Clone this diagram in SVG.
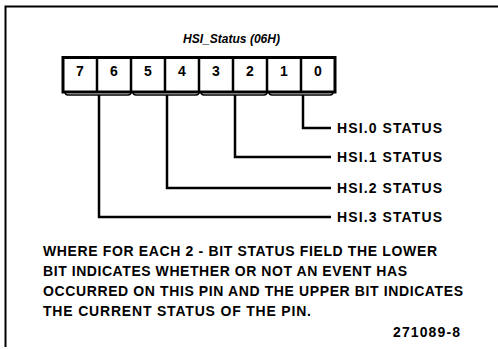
<svg xmlns="http://www.w3.org/2000/svg" width="498" height="349" viewBox="0 0 498 349">
<style>
.f{fill:none;stroke:#000}
.t{font-family:"Liberation Sans",Arial,sans-serif;font-weight:bold;fill:#000}
.lab{font-size:14px}
.dig{font-size:14px;text-anchor:middle}
.para{font-size:14px}
</style>
<rect width="498" height="349" fill="#fff"/>
<g id="frame">
<path class="f" d="M5.5 347 V6.5 H498" stroke-width="2"/>
</g>
<g id="title">
<text class="t" x="183" y="43" font-size="13.5" font-style="italic" textLength="97" lengthAdjust="spacingAndGlyphs">HSI_Status (06H)</text>
</g>
<g id="register">
<rect class="f" x="63" y="57.5" width="272" height="34.5" stroke-width="3"/>
<path class="f" d="M97 57V92M131 57V92M165 57V92M199 57V92M233 57V92M267 57V92M301 57V92" stroke-width="2.5"/>
<text class="t dig" x="80" y="76">7</text>
<text class="t dig" x="114" y="76">6</text>
<text class="t dig" x="148" y="76">5</text>
<text class="t dig" x="182" y="76">4</text>
<text class="t dig" x="216" y="76">3</text>
<text class="t dig" x="250" y="76">2</text>
<text class="t dig" x="284" y="76">1</text>
<text class="t dig" x="318" y="76">0</text>
<path class="f" d="M65 92Q65 95 68 95H128Q131 95 131 92M133 92Q133 95 136 95H196Q199 95 199 92M201 92Q201 95 204 95H264Q267 95 267 92M269 92Q269 95 272 95H330Q333 95 333 92" stroke-width="1.5"/>
</g>
<g id="connectors">
<path class="f" d="M303 95V128H331" stroke-width="2.5"/>
<path class="f" d="M235 95V157H331" stroke-width="2.5"/>
<path class="f" d="M167 95V188H331" stroke-width="2.5"/>
<path class="f" d="M99 95V217H331" stroke-width="2.5"/>
</g>
<g id="hsi0"><text class="t lab" x="337" y="133" textLength="105">HSI.0 STATUS</text></g>
<g id="hsi1"><text class="t lab" x="337" y="162" textLength="105">HSI.1 STATUS</text></g>
<g id="hsi2"><text class="t lab" x="337" y="193" textLength="105">HSI.2 STATUS</text></g>
<g id="hsi3"><text class="t lab" x="337" y="222" textLength="105">HSI.3 STATUS</text></g>
<g id="note">
<text class="t para" x="43" y="256" textLength="394">WHERE FOR EACH 2 - BIT STATUS FIELD THE LOWER</text>
<text class="t para" x="43" y="276" textLength="364">BIT INDICATES WHETHER OR NOT AN EVENT HAS</text>
<text class="t para" x="43" y="296" textLength="420">OCCURRED ON THIS PIN AND THE UPPER BIT INDICATES</text>
<text class="t para" x="43" y="316" textLength="268">THE CURRENT STATUS OF THE PIN.</text>
<text class="t para" x="393" y="337" textLength="67">271089-8</text>
</g>
</svg>
